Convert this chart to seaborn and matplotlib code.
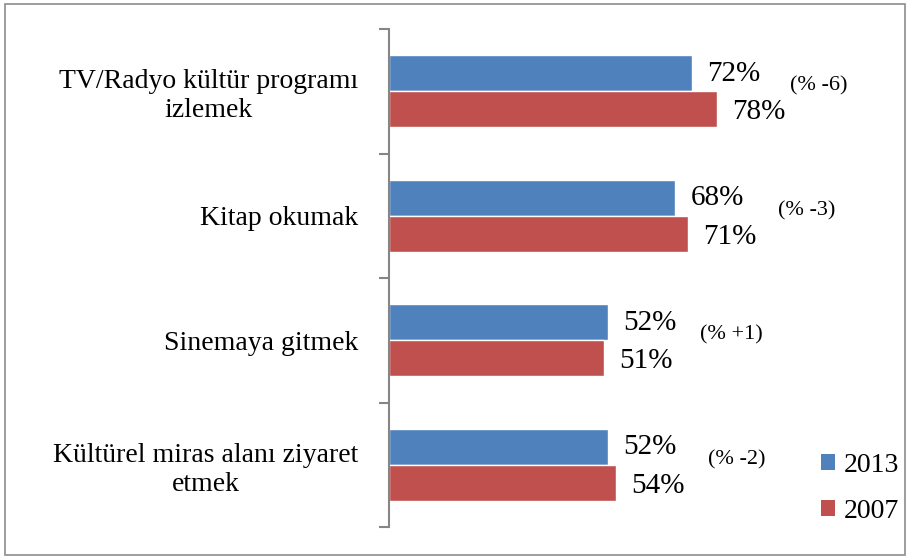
import numpy as np
import pandas as pd
import matplotlib
matplotlib.use("Agg")
import matplotlib.pyplot as plt
import seaborn as sns
from matplotlib.patches import Rectangle, Patch

categories = [
    "TV/Radyo kültür programı\nizlemek",
    "Kitap okumak",
    "Sinemaya gitmek",
    "Kültürel miras alanı ziyaret\netmek",
]
years = ["2013", "2007"]
values_2013 = [72, 68, 52, 52]
values_2007 = [78, 71, 51, 54]
changes = ["(% -6)", "(% -3)", "(% +1)", "(% -2)"]
colors = ["#4F81BD", "#C0504D"]

# offset of the change note beyond the longer bar (x units)
note_offset = [17.3, 21.3, 21.8, 21.8]

sns.set_style("white")
plt.rcParams["font.family"] = ["Liberation Serif", "DejaVu Serif"]
plt.rcParams["text.color"] = "black"
plt.rcParams["ytick.color"] = "black"

df = pd.DataFrame({
    "category": categories * 2,
    "year": [years[0]] * 4 + [years[1]] * 4,
    "value": values_2013 + values_2007,
})

fig = plt.figure(figsize=(9.1, 5.59), dpi=100)
W, H = 910, 559
ax = fig.add_axes([389 / W, 1 - 527 / H, 421 / W, 498 / H])

sns.barplot(data=df, y="category", x="value", hue="year", order=categories,
            hue_order=years, palette=colors, orient="h", width=0.58,
            saturation=1, legend=False, ax=ax)

ax.set_xlim(0, 100)
ax.set_ylim(3.5, -0.5)
ax.set_xlabel("")
ax.set_ylabel("")
ax.set_xticks([])

for s in ["top", "right", "bottom"]:
    ax.spines[s].set_visible(False)
ax.spines["left"].set_color("#868686")
ax.spines["left"].set_linewidth(1.5)

ax.set_yticks(range(len(categories)))
ax.set_yticklabels(categories, fontsize=20, multialignment="center", color="black")
ax.tick_params(axis="y", which="major", left=False, length=0, pad=22)
ax.set_yticks(np.arange(-0.5, len(categories), 1), minor=True)
ax.tick_params(axis="y", which="minor", left=True, length=7, width=1.5,
               color="#868686", direction="out")

# value labels
for i, (a, b) in enumerate(zip(values_2013, values_2007)):
    ax.text(a + 3.6, i - 0.14, f"{a}%", fontsize=21, va="center", ha="left")
    ax.text(b + 3.6, i + 0.17, f"{b}%", fontsize=21, va="center", ha="left")
    ax.text(max(a, b) + note_offset[i], i - 0.04, changes[i], fontsize=16,
            va="center", ha="left")

handles = [Patch(facecolor=c, edgecolor="none") for c in colors]
fig.legend(handles, years, loc="upper left", bbox_to_anchor=(810 / W, 1 - 442 / H),
           frameon=False, fontsize=20, handlelength=0.5, handleheight=0.5,
           handletextpad=0.3, labelspacing=0.75, borderaxespad=0)

fig.patches.append(Rectangle((5 / W, 4 / H), 900 / W, 551 / H, transform=fig.transFigure,
                             fill=False, edgecolor="#8c8c8c", linewidth=1.2))

fig.savefig("out.png", dpi=100)
